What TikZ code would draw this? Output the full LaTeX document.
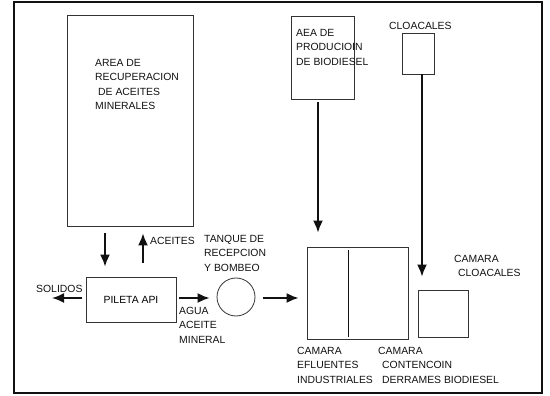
\documentclass[tikz,border=0pt]{standalone}
\usepackage{fontspec}
\setmainfont{Liberation Sans}
\usepackage{xcolor}
\usetikzlibrary{arrows.meta,positioning,calc}
\definecolor{ink}{HTML}{111111}
\definecolor{edge}{HTML}{333333}
\tikzset{
  unit/.style={draw=edge, line width=0.8pt, inner sep=0pt},
  flow/.style={-{Latex[length=12pt,width=10pt]}, line width=1.8pt, draw=ink},
  tag/.style={anchor=north west, inner sep=0pt, align=left, text=ink,
              font=\fontsize{10.4}{14.5}\selectfont}
}
\begin{document}
\begin{tikzpicture}[x=1pt,y=-1pt]
        \useasboundingbox (0,0) rectangle (550,396);
        \draw[line width=1.6pt,draw=ink] (14,2) rectangle (542,393);
        % units
        \node[unit,minimum width=126pt,minimum height=211pt] (area) at (130,120.5) {};
        \node[unit,minimum width=90pt,minimum height=45pt,font=\fontsize{10.4}{14.5}\selectfont] (pileta) at (131,299.5) {PILETA API};
        \node[unit,circle,minimum size=38pt] (tanque) at (236,297) {};
        \node[unit,minimum width=101pt,minimum height=92pt] (efluentes) at (357.5,293) {};
        \draw[line width=1pt,draw=ink] ([xshift=-9.5pt,yshift=-3pt]efluentes.north) -- ([xshift=-9.5pt,yshift=2pt]efluentes.south);
        \node[unit,minimum width=50pt,minimum height=47pt] (camcloa) at (443,313.5) {};
        \node[unit,minimum width=63pt,minimum height=83pt] (aea) at (322.5,57.5) {};
        \node[unit,minimum width=32pt,minimum height=41pt] (cloa) at (418,53.5) {};
        \coordinate (solidos) at (52,298);
        % texts
        \node[tag] (tarea) at (95,59) {AREA DE\\RECUPERACION\\\hspace{3pt}DE ACEITES\\MINERALES};
        \node[tag] (taea) at (296,29) {AEA DE\\PRODUCIOIN\\DE BIODIESEL};
        \node[tag] (tcloa) at (389,22) {CLOACALES};
        \node[tag] (taceites) at (150,237) {ACEITES};
        \node[tag] (ttanque) at (204,235) {TANQUE DE\\RECEPCION\\Y BOMBEO};
        \node[tag] (tsolidos) at (36,285) {SOLIDOS};
        \node[tag] (tagua) at (179,307) {AGUA\\ACEITE\\MINERAL};
        \node[tag] (tefl) at (297,347) {CAMARA\\EFLUENTES\\INDUSTRIALES};
        \node[tag] (tcont) at (378,347) {CAMARA\\\hspace{4pt}CONTENCOIN\\\hspace{4pt}DERRAMES BIODIESEL};
        \node[tag] (tcamcloa) at (454,255) {CAMARA\\\hspace{4pt}CLOACALES};
        % flows
        \draw[flow,shorten <=7pt,shorten >=10pt] ([xshift=-25pt]area.south) -- ([xshift=-26pt]pileta.north);
        \draw[flow,shorten <=14pt,shorten >=7pt] ([xshift=12pt]pileta.north) -- ([xshift=13pt]area.south);
        \draw[flow,shorten <=4pt] (pileta.west |- solidos) -- (solidos);
        \draw[flow,shorten <=3pt,shorten >=7pt] ([yshift=-1pt]pileta.east |- tanque.west) -- ([yshift=-1pt]tanque.west);
        \draw[flow,shorten <=8pt,shorten >=8pt] ([yshift=-1pt]tanque.east) -- ([yshift=-1pt]efluentes.west |- tanque.east);
        \draw[flow,shorten <=3pt,shorten >=14pt] ([xshift=-4.5pt]aea.south) -- ([xshift=-39.5pt]efluentes.north);
        \draw[flow,shorten >=13pt] ([xshift=4pt]cloa.south) -- ([xshift=-21pt]camcloa.north);
\end{tikzpicture}
\end{document}
